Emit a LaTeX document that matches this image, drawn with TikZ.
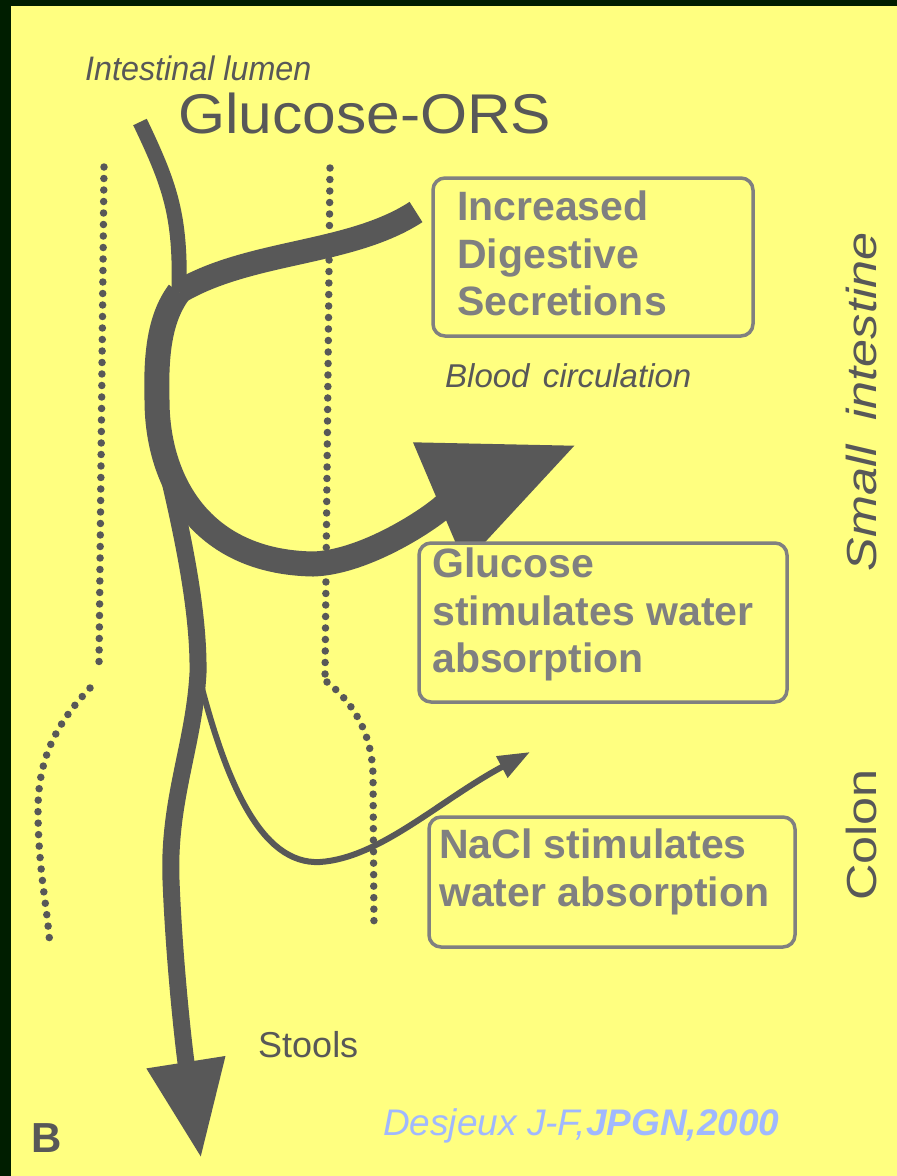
\documentclass[tikz,border=0pt]{standalone}
\usepackage{fontspec}
\setmainfont{Liberation Sans}
\usetikzlibrary{arrows.meta}

\definecolor{paper}{RGB}{255,255,128}
\definecolor{rim}{RGB}{0,30,0}
\definecolor{ink}{RGB}{88,88,88}
\definecolor{boxgray}{RGB}{128,128,128}
\definecolor{citeblue}{RGB}{160,184,255}

\tikzstyle{wall} = [draw=ink, line width=7.5pt, line cap=round, dash pattern=on 0pt off 11.5pt]
\tikzstyle{flow} = [draw=ink, line cap=butt]
\tikzstyle{trickle} = [draw=ink, line width=6pt]
\tikzstyle{panel} = [draw=boxgray, line width=3.5pt, rounded corners=12pt, fill=paper, anchor=north west, inner sep=0pt, outer sep=0pt]
\tikzstyle{note} = [anchor=north west, inner sep=0pt, align=left, text=boxgray, font=\fontsize{41}{47.5}\selectfont\bfseries]
\tikzstyle{caption} = [text=ink, inner sep=0pt, anchor=base west]

\begin{document}
\begin{tikzpicture}[x=1pt, y=-1pt]
\useasboundingbox (0,0) rectangle (897,1176);
\fill[rim] (0,0) rectangle (897,1176);
\fill[paper] (11,6) rectangle (897,1176);

% intestinal walls
\draw[wall] (104,167) -- (99,665);
\draw[wall] (90,688) .. controls (55,725) and (38,760) .. (38,810) .. controls (38,870) and (48,910) .. (50,948);
\draw[wall] (330,168) -- (325,678);
\draw[wall] (327,682) .. controls (350,700) and (372,730) .. (373,775) -- (374,930);

\coordinate (lumen) at (140,122);
\coordinate (fork) at (179,292);
\coordinate (secr) at (416,212);
\coordinate (blood) at (576,445);
\coordinate (split) at (163,452);
\coordinate (leak) at (198,673);
\coordinate (stool) at (201,1158);
\coordinate (colon) at (530,752);

% fluxes
\draw[flow, line width=15pt] (lumen) .. controls (170,185) and (181,215) .. (fork);
\draw[flow, line width=24pt] (fork) .. controls (250,250) and (350,255) .. (secr);
\draw[flow, line width=25pt, -{Triangle[length=149pt,width=125pt]}]
    (fork) .. controls (158,320) and (156,360) .. (157,400)
    .. controls (157,480) and (200,562) .. (313,564)
    .. controls (380,562) and (470,490) .. (blood);
\draw[flow, line width=17pt, -{Triangle[length=97pt,width=75pt]}]
    (split) .. controls (182,530) and (199,610) .. (leak)
    .. controls (194,745) and (168,800) .. (171,880)
    .. controls (174,960) and (184,1050) .. (stool);
\draw[trickle, -{Triangle[length=32pt,width=23pt]}]
    (leak) .. controls (225,780) and (260,865) .. (320,862)
    .. controls (380,858) and (440,800) .. (colon);

% boxes
\node[panel, minimum width=320pt, minimum height=158pt] (secbox) at (433,178) {};
\node[note] (sectext) at (457,190.6) {Increased\\Digestive\\Secretions};
\node[panel, minimum width=368pt, minimum height=159pt] (glubox) at (419,543) {};
\node[note] (glutext) at (432,547.6) {Glucose\\stimulates water\\absorption};
\node[panel, minimum width=366pt, minimum height=130pt] (nacbox) at (429,817) {};
\node[note] (nactext) at (439,828.6) {NaCl stimulates\\water absorption};

% labels
\node[caption, font=\fontsize{34}{40}\selectfont\itshape] (lumenlbl) at (85,80) {\scalebox{0.95}[1]{Intestinal lumen}};
\node[caption, font=\fontsize{56}{60}\selectfont] (orslbl) at (178,133) {\scalebox{1.08}[1]{Glucose-ORS}};
\node[caption, font=\fontsize{33}{40}\selectfont\itshape] (bloodlbl) at (445,387) {Blood\hspace{0.4em}circulation};
\node[caption, font=\fontsize{36}{40}\selectfont] (stoollbl) at (258,1057) {Stools};
\node[caption, font=\fontsize{42}{48}\selectfont\bfseries] (panellbl) at (31,1152) {B};
\node[caption, text=citeblue, font=\fontsize{37}{40}\selectfont\itshape] (citelbl) at (383,1135) {Desjeux J-F,\textbf{JPGN,2000}};
\node[caption, anchor=base, rotate=90, font=\fontsize{42}{48}\selectfont\itshape] (smalllbl) at (876,402) {\scalebox{1.2}[1]{Small\hspace{0.5em}intestine}};
\node[caption, anchor=base, rotate=90, font=\fontsize{42}{48}\selectfont] (colonlbl) at (876,835) {\scalebox{1.2}[1]{Colon}};
\end{tikzpicture}
\end{document}
